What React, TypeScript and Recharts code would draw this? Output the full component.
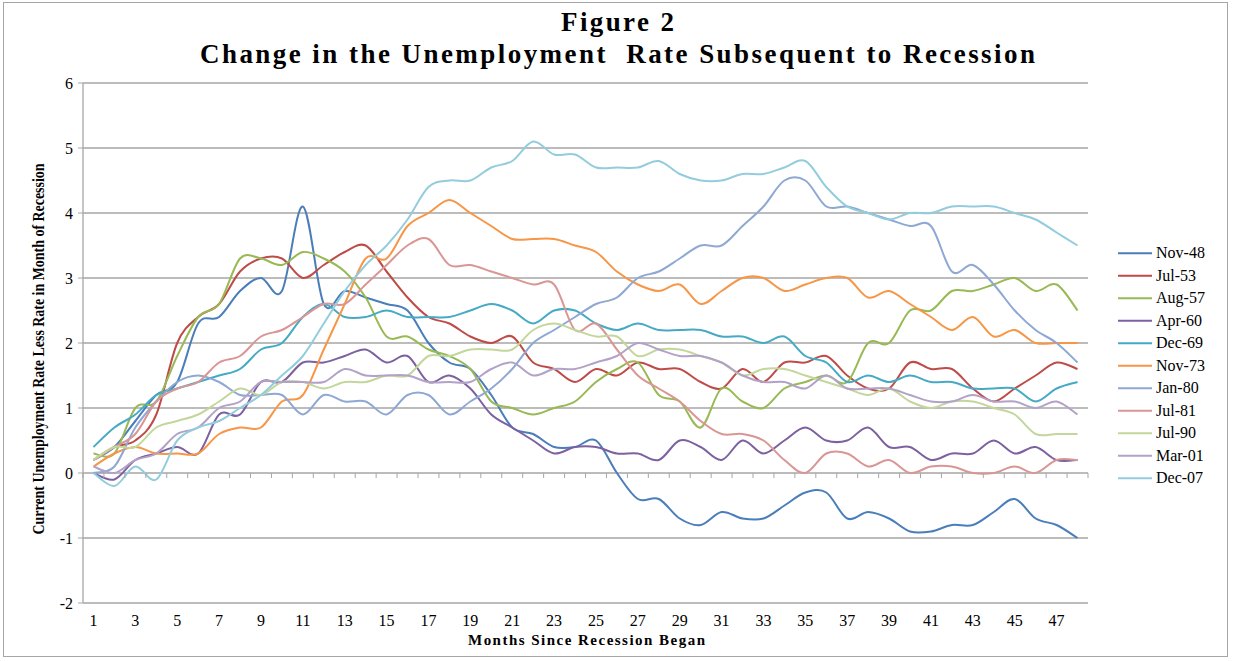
import React from 'react';
import { LineChart, Line, XAxis, YAxis, CartesianGrid } from 'recharts';

const months = [1,2,3,4,5,6,7,8,9,10,11,12,13,14,15,16,17,18,19,20,21,22,23,24,25,26,27,28,29,30,31,32,33,34,35,36,37,38,39,40,41,42,43,44,45,46,47,48];

const nov48 = [0.2,0.4,0.8,1.2,1.4,2.3,2.4,2.8,3.0,2.8,4.1,2.6, 2.8,2.7,2.6,2.5,2.0,1.7,1.6,1.2,0.7,0.6,0.4,0.4, 0.5,0.0,-0.4,-0.4,-0.7,-0.8,-0.6,-0.7,-0.7,-0.5,-0.3,-0.3, -0.7,-0.6,-0.7,-0.9,-0.9,-0.8,-0.8,-0.6,-0.4,-0.7,-0.8,-1.0];
const jul53 = [0.2,0.4,0.5,0.9,2.0,2.4,2.6,3.1,3.3,3.3,3.0,3.2, 3.4,3.5,3.1,2.7,2.4,2.3,2.1,2.0,2.1,1.7,1.6,1.4, 1.6,1.5,1.7,1.6,1.6,1.4,1.3,1.6,1.4,1.7,1.7,1.8, 1.5,1.3,1.3,1.7,1.6,1.6,1.3,1.1,1.3,1.5,1.7,1.6];
const aug57 = [0.3,0.3,1.0,1.1,1.8,2.4,2.6,3.3,3.3,3.2,3.4,3.3, 3.1,2.7,2.1,2.1,1.9,1.8,1.6,1.1,1.0,0.9,1.0,1.1, 1.4,1.6,1.7,1.2,1.1,0.7,1.3,1.1,1.0,1.3,1.4,1.5, 1.4,2.0,2.0,2.5,2.5,2.8,2.8,2.9,3.0,2.8,2.9,2.5];
const apr60 = [0.0,-0.1,0.2,0.3,0.4,0.3,0.9,0.9,1.4,1.4,1.7,1.7, 1.8,1.9,1.7,1.8,1.4,1.5,1.3,0.9,0.7,0.5,0.3,0.4, 0.4,0.3,0.3,0.2,0.5,0.4,0.2,0.5,0.3,0.5,0.7,0.5, 0.5,0.7,0.4,0.4,0.2,0.3,0.3,0.5,0.3,0.4,0.2,0.2];
const dec69 = [0.4,0.7,0.9,1.2,1.3,1.4,1.5,1.6,1.9,2.0,2.4,2.6, 2.4,2.4,2.5,2.4,2.4,2.4,2.5,2.6,2.5,2.3,2.5,2.5, 2.3,2.2,2.3,2.2,2.2,2.2,2.1,2.1,2.0,2.1,1.8,1.7, 1.4,1.5,1.4,1.5,1.4,1.4,1.3,1.3,1.3,1.1,1.3,1.4];
const nov73 = [0.1,0.3,0.4,0.3,0.3,0.3,0.6,0.7,0.7,1.1,1.2,1.9, 2.6,3.3,3.3,3.8,4.0,4.2,4.0,3.8,3.6,3.6,3.6,3.5, 3.4,3.1,2.9,2.8,2.9,2.6,2.8,3.0,3.0,2.8,2.9,3.0, 3.0,2.7,2.8,2.6,2.4,2.2,2.4,2.1,2.2,2.0,2.0,2.0];
const jan80 = [0.0,0.1,0.7,1.1,1.4,1.5,1.4,1.2,1.2,1.2,0.9,1.2, 1.1,1.1,0.9,1.2,1.2,0.9,1.1,1.3,1.6,2.0,2.2,2.4, 2.6,2.7,3.0,3.1,3.3,3.5,3.5,3.8,4.1,4.5,4.5,4.1, 4.1,4.0,3.9,3.8,3.8,3.1,3.2,2.9,2.5,2.2,2.0,1.7];
const jul81 = [0.2,0.4,0.6,1.1,1.3,1.4,1.7,1.8,2.1,2.2,2.4,2.6, 2.6,2.9,3.2,3.5,3.6,3.2,3.2,3.1,3.0,2.9,2.9,2.2, 2.3,1.9,1.5,1.3,1.1,0.8,0.6,0.6,0.5,0.2,0.0,0.3, 0.3,0.1,0.2,0.0,0.1,0.1,0.0,0.0,0.1,0.0,0.2,0.2];
const jul90 = [0.2,0.4,0.4,0.7,0.8,0.9,1.1,1.3,1.2,1.4,1.4,1.3, 1.4,1.4,1.5,1.5,1.8,1.8,1.9,1.9,1.9,2.2,2.3,2.2, 2.1,2.1,1.8,1.9,1.9,1.8,1.7,1.5,1.6,1.6,1.5,1.4, 1.3,1.2,1.3,1.1,1.0,1.1,1.1,1.0,0.9,0.6,0.6,0.6];
const mar01 = [0.1,0.0,0.2,0.3,0.6,0.7,1.0,1.1,1.4,1.4,1.4,1.4, 1.6,1.5,1.5,1.5,1.4,1.4,1.4,1.6,1.7,1.5,1.6,1.6, 1.7,1.8,2.0,1.9,1.8,1.8,1.7,1.5,1.4,1.4,1.3,1.5, 1.3,1.3,1.3,1.2,1.1,1.1,1.2,1.1,1.1,1.0,1.1,0.9];
const dec07 = [0.0,-0.2,0.1,-0.1,0.5,0.7,0.8,1.0,1.2,1.5,1.8,2.3, 2.8,3.2,3.5,3.9,4.4,4.5,4.5,4.7,4.8,5.1,4.9,4.9, 4.7,4.7,4.7,4.8,4.6,4.5,4.5,4.6,4.6,4.7,4.8,4.4, 4.1,4.0,3.9,4.0,4.0,4.1,4.1,4.1,4.0,3.9,3.7,3.5];

const seriesNames = ['Nov-48','Jul-53','Aug-57','Apr-60','Dec-69','Nov-73','Jan-80','Jul-81','Jul-90','Mar-01','Dec-07'];
const seriesValues = [nov48, jul53, aug57, apr60, dec69, nov73, jan80, jul81, jul90, mar01, dec07];
const seriesColors = ['#4A7EBB','#BE4B48','#98B954','#7D60A0','#46AAC5','#F79646','#8EA8D4','#D99694','#C3D69B','#B3A2C7','#93CDDD'];

const yTicks = [-2,-1,0,1,2,3,4,5,6];
const Y_MIN = -2;
const Y_MAX = 6;

const TITLE_1 = 'Figure 2';
const TITLE_2 = 'Change in the Unemployment  Rate Subsequent to Recession';
const X_TITLE = 'Months Since Recession Began';
const Y_TITLE = 'Current Unemployment Rate Less Rate in Month of Recession';

const W = 1233;
const H = 661;
const PLOT_LEFT = 83;
const PLOT_TOP = 83;
const PLOT_RIGHT = 1088;
const PLOT_BOTTOM = 603;
const Y_AXIS_W = 40;
const X_AXIS_H = 30;
const PLOT_W = PLOT_RIGHT - PLOT_LEFT;
const PLOT_H = PLOT_BOTTOM - PLOT_TOP;
const STEP = PLOT_W / months.length;
const GRID = '#A6A6A6';
const SERIF = '"Liberation Serif", "Times New Roman", Times, serif';

const data = months.map((m, i) => {
  const row: Record<string, number> = { month: m };
  seriesNames.forEach((n, k) => { row[n] = seriesValues[k][i]; });
  return row;
});

// Excel-like smoothed line (Catmull-Rom style Bezier)
const excelSmooth: any = (context: any) => {
  let pts: number[][] = [];
  return {
    areaStart() {},
    areaEnd() {},
    lineStart() { pts = []; },
    point(x: number, y: number) { pts.push([+x, +y]); },
    lineEnd() {
      const n = pts.length;
      if (!n) return;
      context.moveTo(pts[0][0], pts[0][1]);
      const t = 1 / 6;
      for (let i = 0; i < n - 1; i++) {
        const p0 = pts[i > 0 ? i - 1 : i];
        const p1 = pts[i];
        const p2 = pts[i + 1];
        const p3 = pts[i + 2 < n ? i + 2 : i + 1];
        context.bezierCurveTo(
          p1[0] + (p2[0] - p0[0]) * t, p1[1] + (p2[1] - p0[1]) * t,
          p2[0] - (p3[0] - p1[0]) * t, p2[1] - (p3[1] - p1[1]) * t,
          p2[0], p2[1]
        );
      }
    },
  };
};

const zeroY = PLOT_TOP + (PLOT_H * (Y_MAX - 0)) / (Y_MAX - Y_MIN);

const XTick = (props: any) => {
  const { x, payload } = props;
  const m = payload.value;
  const last = m === months[months.length - 1];
  return (
    <g>
      <line x1={x - STEP / 2} x2={x - STEP / 2} y1={zeroY} y2={zeroY + 5} stroke={GRID} strokeWidth={1} />
      {last && <line x1={x + STEP / 2} x2={x + STEP / 2} y1={zeroY} y2={zeroY + 5} stroke={GRID} strokeWidth={1} />}
      {m % 2 === 1 && (
        <text x={x} y={PLOT_BOTTOM + 23} textAnchor="middle" fontFamily={SERIF} fontSize={16} fill="#000">{m}</text>
      )}
    </g>
  );
};

const LegendBox = () => (
  <svg width={115} height={seriesNames.length * 22.5} style={{ position: 'absolute', left: 1118, top: 242 }}>
    {seriesNames.map((n, i) => (
      <g key={n} transform={`translate(0, ${i * 22.5 + 11.25})`}>
        <line x1={0} x2={34} y1={0} y2={0} stroke={seriesColors[i]} strokeWidth={2} />
        <text x={38} y={5} fontFamily={SERIF} fontSize={16} fill="#000">{n}</text>
      </g>
    ))}
  </svg>
);

export default function App() {
  return (
    <div style={{ position: 'absolute', left: 0, top: 0, width: W, height: H, background: '#fff' }}>
      <div style={{ position: 'absolute', left: 3, top: 2, width: 1225, height: 655, border: `1px solid ${GRID}`, boxSizing: 'border-box' }} />
      <div style={{ position: 'absolute', left: 0, top: 0 }}>
        <LineChart
          width={W}
          height={H}
          data={data}
          margin={{ top: PLOT_TOP, right: W - PLOT_RIGHT, bottom: H - PLOT_BOTTOM - X_AXIS_H, left: PLOT_LEFT - Y_AXIS_W }}
        >
          <CartesianGrid horizontal vertical={false} stroke={GRID} strokeWidth={1.3} />
          <XAxis
            dataKey="month"
            type="category"
            height={X_AXIS_H}
            interval={0}
            padding={{ left: STEP / 2, right: STEP / 2 }}
            axisLine={false}
            tickLine={false}
            tick={<XTick />}
          />
          <YAxis
            width={Y_AXIS_W}
            domain={[Y_MIN, Y_MAX]}
            ticks={yTicks}
            interval={0}
            allowDataOverflow
            axisLine={{ stroke: GRID, strokeWidth: 1.3 }}
            tickLine={{ stroke: GRID }}
            tickSize={5}
            tickMargin={5}
            tick={{ fontFamily: SERIF, fontSize: 16, fill: '#000' }}
          />
          {seriesNames.map((n, i) => (
            <Line
              key={n}
              dataKey={n}
              name={n}
              type={excelSmooth}
              stroke={seriesColors[i]}
              strokeWidth={2}
              dot={false}
              activeDot={false}
              isAnimationActive={false}
            />
          ))}
        </LineChart>
      </div>
      <LegendBox />
      <svg width={W} height={H} style={{ position: 'absolute', left: 0, top: 0, pointerEvents: 'none' }}>
        <text x={617.5} y={31} textAnchor="middle" fontFamily={SERIF} fontWeight="bold" fontSize={27} textLength={113} lengthAdjust="spacing">{TITLE_1}</text>
        <text x={617.5} y={63} textAnchor="middle" fontFamily={SERIF} fontWeight="bold" fontSize={27} textLength={835} lengthAdjust="spacing" style={{ whiteSpace: 'pre' }}>{TITLE_2}</text>
        <text x={586.5} y={645} textAnchor="middle" fontFamily={SERIF} fontWeight="bold" fontSize={15} textLength={237} lengthAdjust="spacing">{X_TITLE}</text>
        <text transform="translate(44, 349) rotate(-90)" x={0} y={0} textAnchor="middle" fontFamily={SERIF} fontWeight="bold" fontSize={16} textLength={371} lengthAdjust="spacingAndGlyphs">{Y_TITLE}</text>
      </svg>
    </div>
  );
}
